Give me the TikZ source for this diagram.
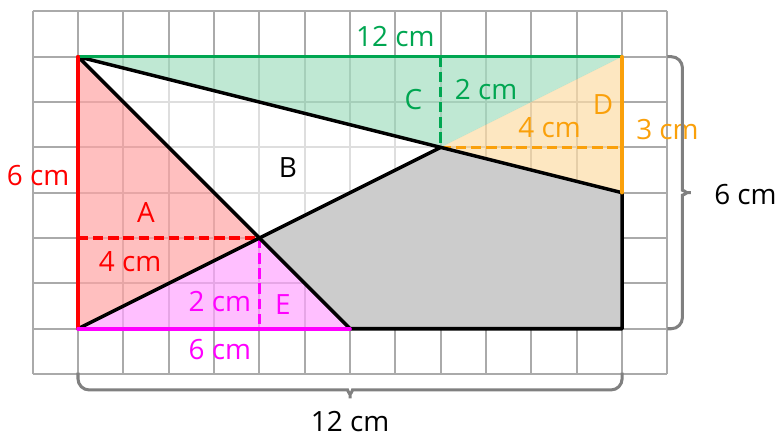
\documentclass[tikz,border=0pt]{standalone}
\usepackage{fontspec}
\setmainfont{Open Sans}
\usepackage{tikz}
\usepackage{xcolor}
\definecolor{areagreen}{RGB}{0, 166, 81}
\definecolor{areared}{RGB}{255, 0, 0}
\definecolor{areaorange}{RGB}{250, 160, 10}
\definecolor{areamagenta}{RGB}{255, 0, 255}
\definecolor{areagray}{RGB}{204, 204, 204}
\definecolor{gridouter}{RGB}{170, 170, 170}
\definecolor{gridinner}{RGB}{222, 222, 222}
\definecolor{bracegray}{RGB}{128, 128, 128}
\usetikzlibrary{calc,positioning}

\begin{document}
\begin{tikzpicture}[
    edge/.style={line width=2.2pt, line join=round, line cap=round},
    dashedge/.style={line width=2pt, dash pattern=on 6.5pt off 3pt},
    shade/.style={fill opacity=0.25},
    lbl/.style={font=\fontsize{17.5}{20}\selectfont, inner sep=1pt},
    bracket/.style={bracegray, line width=1.9pt, rounded corners=7pt}
]
    \useasboundingbox (-1.72, -2.38) rectangle (15.46, 7.25);

    % Grid around and inside the rectangle
    \draw[gridouter, line width=1.2pt] (-1, -1) grid (13, 7);
    \fill[white] (0, 0) rectangle (12, 6);
    \draw[gridinner, line width=1.2pt] (0, 0) grid (12, 6);

    % Corners of the pieces
    \coordinate (O) at (0, 0);
    \coordinate (TL) at (0, 6);
    \coordinate (TR) at (12, 6);
    \coordinate (BR) at (12, 0);
    \coordinate (P) at (8, 4);
    \coordinate (Q) at (4, 2);
    \coordinate (S) at (6, 0);
    \coordinate (R) at (12, 3);

    % Shaded triangles
    \fill[areared, shade] (TL) -- (O) -- (Q) -- cycle;
    \fill[areagreen, shade] (TL) -- (TR) -- (P) -- cycle;
    \fill[areaorange, shade] (P) -- (TR) -- (R) -- cycle;
    \fill[areamagenta, shade] (O) -- (Q) -- (S) -- cycle;
    \fill[areagray] (Q) -- (P) -- (R) -- (BR) -- (S) -- cycle;

    % Heights
    \draw[areagreen, dashedge] (8, 6) -- (P);
    \draw[areaorange, dashedge] (P) -- (12, 4);
    \draw[areared, dashedge] (0, 2) -- (Q);
    \draw[areamagenta, dashedge] (Q) -- (4, 0);

    % Cut lines
    \draw[edge] (TL) -- (P) -- (R) -- (BR) -- (S) -- (Q) -- cycle;
    \draw[edge] (O) -- (Q) -- (P);

    % Bases
    \draw[areagreen, edge] (TL) -- (TR);
    \draw[areared, edge] (TL) -- (O);
    \draw[areaorange, edge] (TR) -- (R);
    \draw[areamagenta, edge] (O) -- (S);

    % Labels
    \node[lbl, areagreen] (base12) at (7, 6.45) {12 cm};
    \node[lbl, areagreen] (labC) at (7.4, 5.05) {C};
    \node[lbl, areagreen] (hC) at (9, 5.27) {2 cm};
    \node[lbl, areaorange] (labD) at (11.58, 4.94) {D};
    \node[lbl, areaorange] (hD) at (10.4, 4.43) {4 cm};
    \node[lbl, areaorange] (baseD) at (13, 4.4) {3 cm};
    \node[lbl] (labB) at (4.63, 3.55) {B};
    \node[lbl, areared] (baseA) at (-0.88, 3.37) {6 cm};
    \node[lbl, areared] (labA) at (1.5, 2.56) {A};
    \node[lbl, areared] (hA) at (1.15, 1.48) {4 cm};
    \node[lbl, areamagenta] (hE) at (3.13, 0.6) {2 cm};
    \node[lbl, areamagenta] (labE) at (4.52, 0.53) {E};
    \node[lbl, areamagenta] (baseE) at (3.13, -0.46) {6 cm};

    % Braces
    \draw[bracket] (13, 6) -- (13.33, 6) -- (13.33, 3.3)
        .. controls (13.33, 3.06) and (13.45, 3) .. (13.66, 3)
        .. controls (13.45, 3) and (13.33, 2.94) .. (13.33, 2.7)
        -- (13.33, 0) -- (13, 0);
    \node[lbl] (height) at (14.72, 2.95) {6 cm};

    \draw[bracket] (0, -0.97) -- (0, -1.35) -- (5.7, -1.35)
        .. controls (5.94, -1.35) and (6, -1.47) .. (6, -1.68)
        .. controls (6, -1.47) and (6.06, -1.35) .. (6.3, -1.35)
        -- (12, -1.35) -- (12, -0.97);
    \node[lbl] (width) at (6, -2.05) {12 cm};
\end{tikzpicture}
\end{document}
